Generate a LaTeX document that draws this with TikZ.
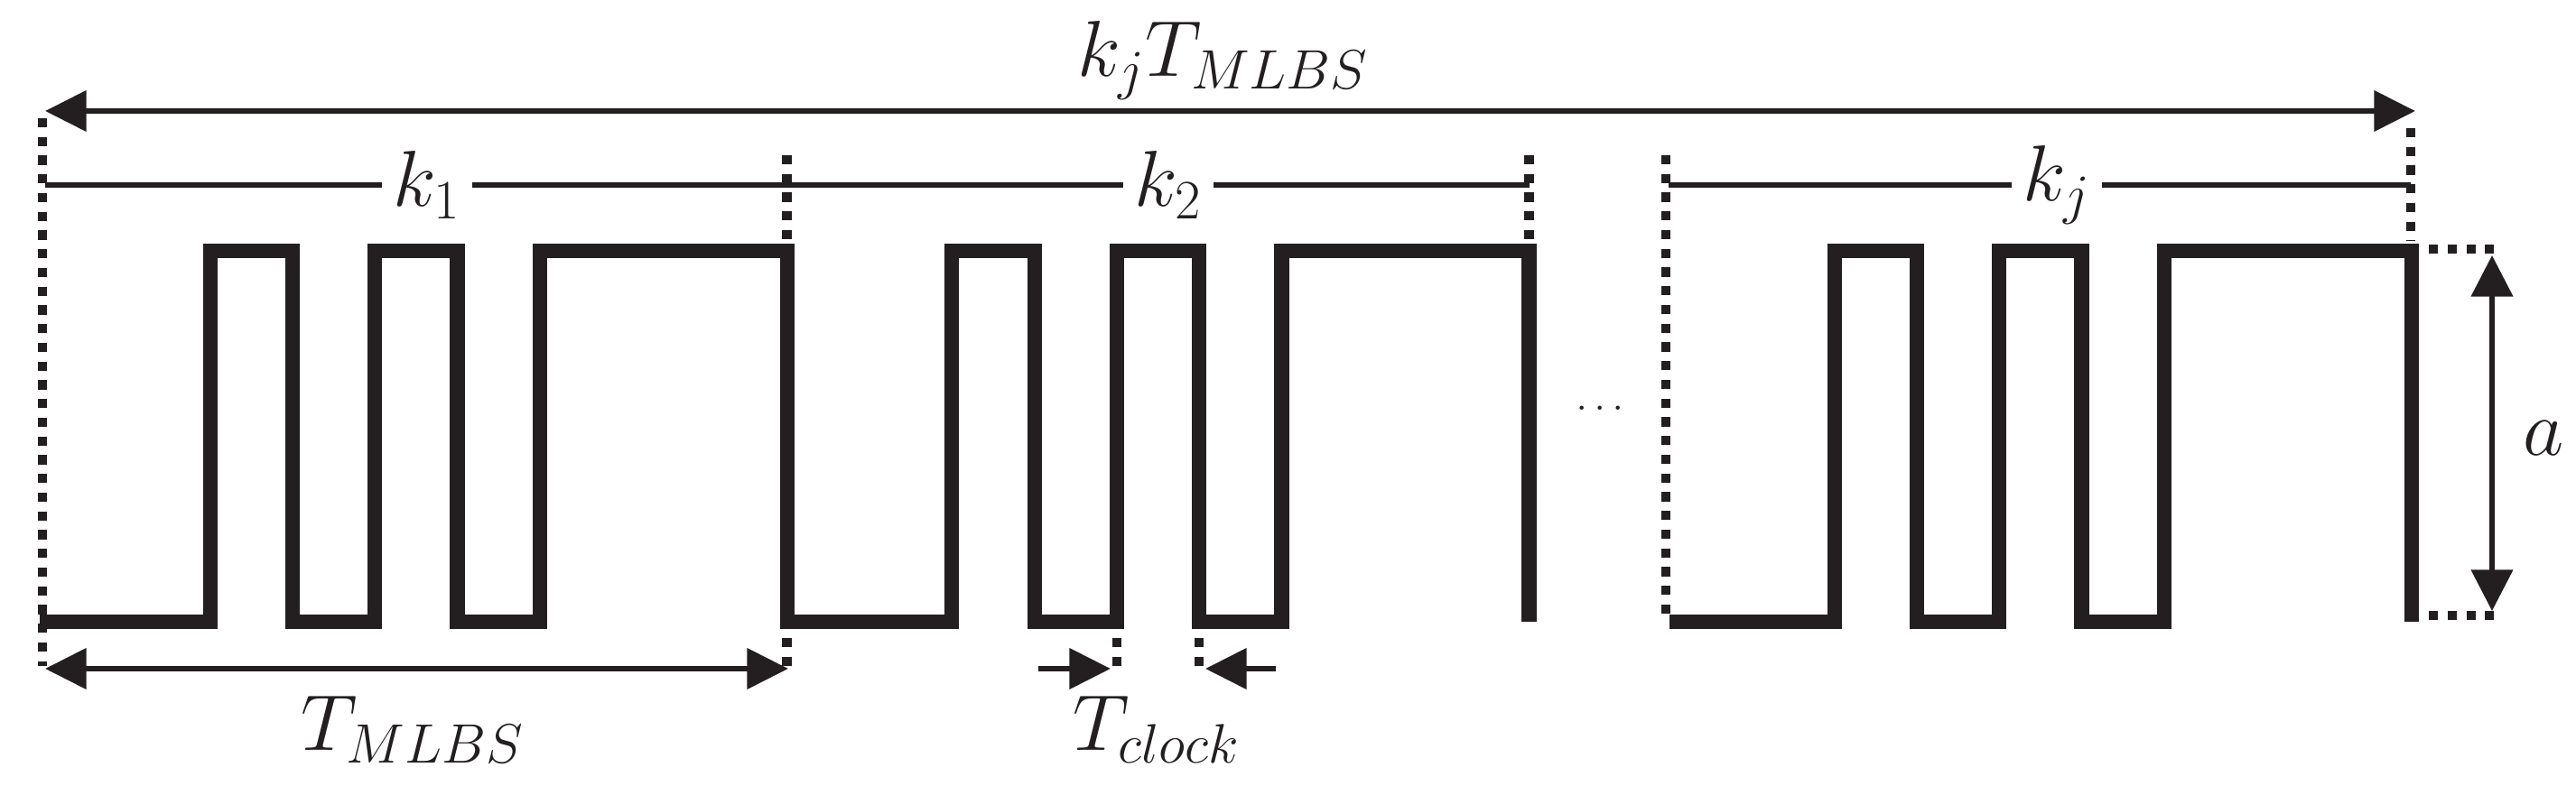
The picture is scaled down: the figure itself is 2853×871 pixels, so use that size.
\documentclass[tikz,border=0pt]{standalone}
\usepackage{fix-cm}
\usepackage{amsmath,amssymb}
\usepackage{tikz}
\usetikzlibrary{arrows.meta,calc}
\definecolor{ink}{RGB}{35,31,32}
\newcommand{\tck}{91.3}

\begin{document}
\begin{tikzpicture}[
  x=0.01cm, y=-0.01cm,
  wave/.style={draw=ink, line width=4.6pt, line join=miter},
  arr/.style={draw=ink, line width=1.9pt, {Triangle[length=13pt,width=12.6pt]}-{Triangle[length=13pt,width=12.6pt]}},
  tip/.style={draw=ink, line width=1.9pt, -{Triangle[length=13pt,width=12.6pt]}},
  thinarr/.style={draw=ink, line width=1.5pt, {Triangle[length=13pt,width=13pt]}-{Triangle[length=13pt,width=13pt]}},
  kline/.style={draw=ink, line width=1.6pt},
  guide/.style={draw=ink, line width=3pt, dash pattern=on 2.9pt off 3pt},
  lbl/.style={text=ink, font=\fontsize{25}{30}\selectfont, inner sep=0pt},
  klbl/.style={lbl, inner sep=3.5pt}
]
\useasboundingbox (0,0) rectangle (2853,871);

% MLBS periods
\draw[wave] (44,689) foreach \s in {50,871.7} {
  -- ({\s+2*\tck},689) -- ({\s+2*\tck},278) -- ({\s+3*\tck},278) -- ({\s+3*\tck},689)
  -- ({\s+4*\tck},689) -- ({\s+4*\tck},278) -- ({\s+5*\tck},278) -- ({\s+5*\tck},689)
  -- ({\s+6*\tck},689) -- ({\s+6*\tck},278) -- ({\s+9*\tck},278) -- ({\s+9*\tck},689)};
\draw[wave] (1849,689) foreach \s in {1849} {
  -- ({\s+2*\tck},689) -- ({\s+2*\tck},278) -- ({\s+3*\tck},278) -- ({\s+3*\tck},689)
  -- ({\s+4*\tck},689) -- ({\s+4*\tck},278) -- ({\s+5*\tck},278) -- ({\s+5*\tck},689)
  -- ({\s+6*\tck},689) -- ({\s+6*\tck},278) -- ({\s+9*\tck},278) -- ({\s+9*\tck},689)};

% guides
\coordinate (g0a) at (47,131);     \coordinate (g0b) at (47,738);
\coordinate (g1a) at (871.5,172);  \coordinate (g1b) at (871.5,266);
\coordinate (g1c) at (871.5,707);  \coordinate (g1d) at (871.5,738);
\coordinate (g2a) at (1693.5,172); \coordinate (g2b) at (1693.5,266);
\coordinate (c1a) at (1237,707);   \coordinate (c1b) at (1237,738);
\coordinate (c2a) at (1328,707);   \coordinate (c2b) at (1328,738);
\coordinate (gja) at (1845,172);   \coordinate (gjb) at (1845,687);
\coordinate (gka) at (2670,142);   \coordinate (gkb) at (2670,267);
\coordinate (hia) at (2690,276);   \coordinate (hib) at (2763,276);
\coordinate (loa) at (2690,682);   \coordinate (lob) at (2763,682);
\draw[guide] (g0a) -- (g0b);
\draw[guide] (g1a) -- (g1b);
\draw[guide] (g1c) -- (g1d);
\draw[guide] (g2a) -- (g2b);
\draw[guide] (c1a) -- (c1b);
\draw[guide] (c2a) -- (c2b);
\draw[guide] (gja) -- (gjb);
\draw[guide] (gka) -- (gkb);
\draw[guide] (hia) -- (hib);
\draw[guide] (loa) -- (lob);

% total length
\coordinate (totl) at (50,123); \coordinate (totr) at (2675,123);
\draw[arr] (totl) -- (totr);
\node[lbl, anchor=base] (tot) at (1355,85) {$k_jT_{MLBS}$};

% repetitions
\node[klbl] (k1) at (473,205) {$k_1$};
\node[klbl] (k2) at (1294,205) {$k_2$};
\node[klbl] (kj) at (2278,205) {$k_j$};
\coordinate (k1l) at (50,205);   \coordinate (k1r) at (871.5,205);
\coordinate (k2r) at (1693.5,205);
\coordinate (kjl) at (1848,205); \coordinate (kjr) at (2670,205);
\draw[kline] (k1l) -- (k1);
\draw[kline] (k1) -- (k1r);
\draw[kline] (k1r) -- (k2);
\draw[kline] (k2) -- (k2r);
\draw[kline] (kjl) -- (kj);
\draw[kline] (kj) -- (kjr);

% one period
\coordinate (pl) at (50,741); \coordinate (pr) at (873,741);
\draw[arr] (pl) -- (pr);
\node[lbl, anchor=base] (tm) at (457,832) {$T_{MLBS}$};

% clock period
\coordinate (ca) at (1150,741); \coordinate (cb) at (1230,741);
\coordinate (cc) at (1413,741); \coordinate (cd) at (1335,741);
\draw[tip] (ca) -- (cb);
\draw[tip] (cc) -- (cd);
\node[lbl, anchor=base] (tc) at (1281,832) {$T_{clock}$};

% amplitude
\coordinate (at) at (2760,283); \coordinate (ab) at (2760,677);
\draw[thinarr] (at) -- (ab);
\node[lbl] (amp) at (2817,486) {$a$};

\node[lbl, font=\fontsize{13}{15}\selectfont] (dots) at (1772,452) {$\ldots$};
\end{tikzpicture}
\end{document}
